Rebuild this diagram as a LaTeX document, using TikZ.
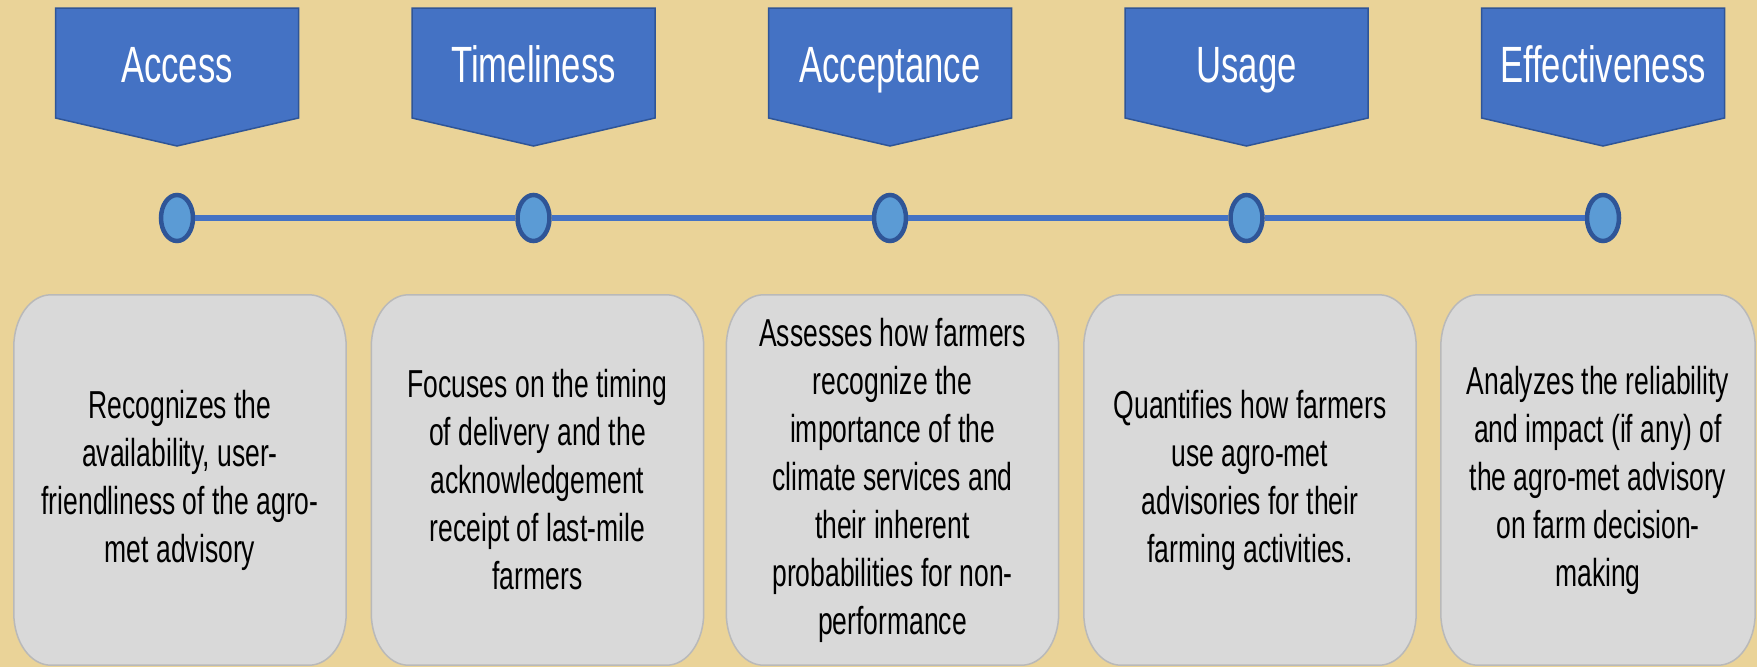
\documentclass[tikz,border=0pt]{standalone}
\usepackage{fontspec}
\usetikzlibrary{shapes.geometric}
\newfontfamily\nsans[FakeStretch=0.68]{Liberation Sans}
\definecolor{parch}{RGB}{234,211,152}
\definecolor{bannerfill}{RGB}{68,114,196}
\definecolor{bannerline}{RGB}{47,85,151}
\definecolor{dotfill}{RGB}{91,155,213}
\definecolor{boxfill}{RGB}{217,217,217}
\definecolor{boxline}{RGB}{185,185,185}
\pgfdeclarelayer{bg}
\pgfdeclarelayer{background}
\pgfsetlayers{bg,background,main}
\tikzset{
  banner/.style={fill=bannerfill,draw=bannerline,line width=1.5pt,line join=miter},
  titletext/.style={text=white,font=\nsans\fontsize{51}{60}\selectfont,inner sep=0pt,anchor=base},
  dot/.style={ellipse,draw=bannerline,fill=dotfill,line width=4.5pt,minimum width=32pt,minimum height=46pt,inner sep=0pt},
  tline/.style={draw=bannerfill,line width=5.5pt},
  bodybox/.style={rectangle,minimum width=332pt,minimum height=370pt,inner sep=0pt,align=center,text=black,font=\nsans\fontsize{39}{48}\selectfont},
  boxshape/.style={fill=boxfill,draw=boxline,line width=1.5pt}
}
\newcommand\ebox[1]{%
  \begin{pgfonlayer}{background}
  \path[boxshape] ([xshift=37pt]#1.north west) -- ([xshift=-37pt]#1.north east)
    arc[start angle=90,end angle=0,x radius=37pt,y radius=52pt]
    -- ([yshift=52pt]#1.south east)
    arc[start angle=0,end angle=-90,x radius=37pt,y radius=52pt]
    -- ([xshift=37pt]#1.south west)
    arc[start angle=270,end angle=180,x radius=37pt,y radius=52pt]
    -- ([yshift=-52pt]#1.north west)
    arc[start angle=180,end angle=90,x radius=37pt,y radius=52pt] -- cycle;
  \end{pgfonlayer}}
\newcommand\bannershape[1]{%
  \path[banner] (#1-121.5,-8) -- (#1+121.5,-8) -- (#1+121.5,-118) -- (#1,-146) -- (#1-121.5,-118) -- cycle;}
\begin{document}
\begin{tikzpicture}[x=1pt,y=1pt]
\begin{pgfonlayer}{bg}
\fill[parch] (0,0) rectangle (1757,-667);
\end{pgfonlayer}
\useasboundingbox (0,0) rectangle (1757,-667);

% banners
\bannershape{177}
\bannershape{533.5}
\bannershape{890}
\bannershape{1246.5}
\bannershape{1603}
\node[titletext] (t1) at (177,-82) {Access};
\node[titletext] (t2) at (533.5,-82) {Timeliness};
\node[titletext] (t3) at (890,-82) {Acceptance};
\node[titletext] (t4) at (1246.5,-82) {Usage};
\node[titletext] (t5) at (1603,-82) {Effectiveness};

% timeline
\node[dot] (d1) at (177,-218) {};
\node[dot] (d2) at (533.5,-218) {};
\node[dot] (d3) at (890,-218) {};
\node[dot] (d4) at (1246.5,-218) {};
\node[dot] (d5) at (1603,-218) {};
\draw[tline] (d1) -- (d2);
\draw[tline] (d2) -- (d3);
\draw[tline] (d3) -- (d4);
\draw[tline] (d4) -- (d5);

% boxes
\node[bodybox] (b1) at (180,-480) {Recognizes the\\availability, user-\\friendliness of the agro-\\met advisory};
\node[bodybox] (b2) at (537.5,-480) {Focuses on the timing\\of delivery and the\\acknowledgement\\receipt of last-mile\\farmers};
\node[bodybox] (b3) at (892.5,-480) {Assesses how farmers\\recognize the\\importance of the\\climate services and\\their inherent\\probabilities for non-\\performance};
\node[bodybox] (b4) at (1250,-480) {Quantifies how farmers\\use agro-met\\advisories for their\\farming activities.};
\node[bodybox,minimum width=314pt] (b5) at (1598,-480) {Analyzes the reliability\\and impact (if any) of\\the agro-met advisory\\on farm decision-\\making};
\ebox{b1}
\ebox{b2}
\ebox{b3}
\ebox{b4}
\ebox{b5}
\end{tikzpicture}
\end{document}
